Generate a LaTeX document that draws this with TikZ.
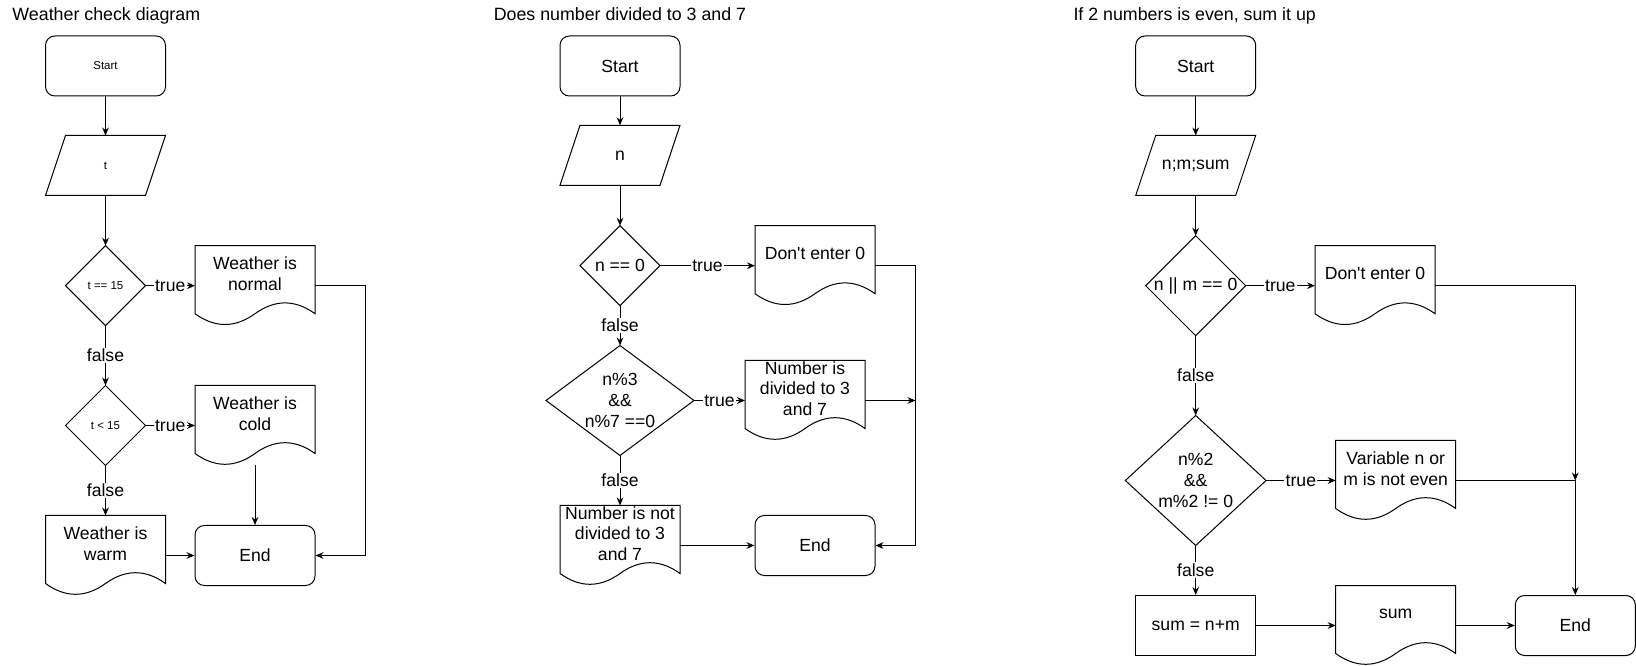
\documentclass[tikz,border=0pt]{standalone}
\usepackage{fontspec}
\setmainfont{Liberation Sans}
\usetikzlibrary{shapes.geometric,arrows.meta,quotes}

\newcommand{\bigtxt}{\fontsize{13.2pt}{15.5pt}\selectfont}
\newcommand{\smalltxt}{\fontsize{8.6pt}{10pt}\selectfont}

\tikzset{
  term/.style={rectangle, draw, rounded corners=7pt, minimum width=90pt, minimum height=45pt, inner sep=0pt, font=\bigtxt},
  proc/.style={rectangle, draw, minimum width=90pt, minimum height=45pt, inner sep=0pt, font=\bigtxt},
  io/.style={rectangle, minimum width=90pt, minimum height=45pt, inner sep=0pt, outer sep=0pt, font=\bigtxt,
    append after command={\pgfextra{\draw[shift={(\tikzlastnode.north west)}] (20,0) -- (120,0) -- (100,60) -- (0,60) -- cycle;}}},
  doc/.style={rectangle, minimum width=90pt, minimum height=60pt, inner sep=0pt, outer sep=0pt,
    append after command={\pgfextra{\draw[shift={(\tikzlastnode.north west)}] (0,0) -- (120,0) -- (120,68)
      .. controls (100,53.6) and (80,53.6) .. (60,68) .. controls (40,82.4) and (20,82.4) .. (0,68) -- cycle;}}},
  dec/.style={diamond, draw, inner sep=0pt, outer sep=0pt},
  txt/.style={align=center, inner sep=0pt, font=\bigtxt},
  heading/.style={anchor=base west, inner sep=0pt, font=\fontsize{13.35pt}{16pt}\selectfont}
}

\begin{document}
\begin{tikzpicture}[x=0.75pt, y=-0.75pt, line width=0.75pt, >={Stealth[length=6pt, width=5pt]},
  every edge quotes/.style={fill=white, inner sep=1pt, font=\bigtxt}]
\useasboundingbox (0,0) rectangle (1636,666);
\node[heading] (h1) at (12,21) {Weather check diagram};
\node[heading] (h2) at (493.3,21) {Does number divided to 3 and 7};
\node[heading] (h3) at (1073,21) {If 2 numbers is even, sum it up};

\node[term, font=\smalltxt] (start1) at (105.5,66) {Start};
\node[io, font=\smalltxt] (in1) at (105.5,165.5) {t};
\node[dec, minimum width=60pt, minimum height=60pt, label={[txt, font=\smalltxt]center:t == 15}] (c1) at (105.5,285.7) {};
\node[doc, label={[txt, yshift=9pt]center:Weather is\\normal}] (norm1) at (255,285.7) {};
\node[dec, minimum width=60pt, minimum height=60pt, label={[txt, font=\smalltxt]center:t < 15}] (c2) at (105.5,425.5) {};
\node[doc, label={[txt, yshift=9pt]center:Weather is\\cold}] (cold1) at (255,425.5) {};
\node[doc, label={[txt, yshift=9pt]center:Weather is\\warm}] (warm1) at (105.5,555.5) {};
\node[term] (end1) at (255,555.5) {End};
\draw[->] (start1) -- (in1);
\draw[->] (in1) -- (c1);
\draw[->] (c1) to["true"] (norm1);
\draw[->] (c1) to["false"] (c2);
\draw[->] (c2) to["true"] (cold1);
\draw[->] (c2) to["false"] (warm1);
\draw[->] (cold1) -- (end1);
\draw[->] (warm1) -- (end1);
\draw[->] (norm1.east) -- ++(50.7,0) |- (end1.east);

\node[term] (start2) at (620,66) {Start};
\node[io] (in2) at (620,155.3) {n};
\node[dec, minimum width=60pt, minimum height=60pt, label={[txt]center:n == 0}] (c3) at (620,265.7) {};
\node[doc, label={[txt, yshift=9pt]center:Don\textquotesingle t enter 0}] (dont2) at (815,265.7) {};
\node[dec, minimum width=111pt, minimum height=82.5pt, label={[txt]center:n\%3\\\&\&\\n\%7 ==0}] (c4) at (620,400.5) {};
\node[doc, label={[txt, yshift=9pt]center:Number is\\divided to 3\\and 7}] (div2) at (805,400.5) {};
\node[doc, label={[txt, yshift=9pt]center:Number is not\\divided to 3\\and 7}] (ndiv2) at (620,545.5) {};
\node[term] (end2) at (815,545.5) {End};
\coordinate (j2) at (915.5,400.5);
\draw[->] (start2) -- (in2);
\draw[->] (in2) -- (c3);
\draw[->] (c3) to["true"] (dont2);
\draw[->] (c3) to["false"] (c4);
\draw[->] (c4) to["true"] (div2);
\draw[->] (c4) to["false"] (ndiv2);
\draw[->] (ndiv2) -- (end2);
\draw[->] (div2.east) -- (j2);
\draw[->] (dont2.east) -- ++(40.5,0) |- (end2.east);

\node[term] (start3) at (1195.7,66) {Start};
\node[io] (in3) at (1195.7,165.5) {n;m;sum};
\node[dec, minimum width=75pt, minimum height=75pt, label={[txt]center:n || m == 0}] (c5) at (1195.7,285.7) {};
\node[doc, label={[txt, yshift=9pt]center:Don\textquotesingle t enter 0}] (dont3) at (1375,285.7) {};
\node[dec, minimum width=105.5pt, minimum height=97.5pt, label={[txt]center:n\%2\\\&\&\\m\%2 != 0}] (c6) at (1195.7,480.5) {};
\node[doc, label={[txt, yshift=9pt]center:Variable n or\\m is not even}] (odd3) at (1395.7,480.5) {};
\node[proc] (calc3) at (1195.7,625.5) {sum = n+m};
\node[doc, label={[txt, yshift=9pt]center:sum}] (sum3) at (1395.7,625.5) {};
\node[term] (end3) at (1575.3,625.5) {End};
\coordinate (j3) at (1575.3,480.5);
\draw[->] (start3) -- (in3);
\draw[->] (in3) -- (c5);
\draw[->] (c5) to["true"] (dont3);
\draw[->] (c5) to["false"] (c6);
\draw[->] (c6) to["true"] (odd3);
\draw[->] (c6) to["false"] (calc3);
\draw[->] (calc3) -- (sum3);
\draw[->] (sum3) -- (end3);
\draw[->] (dont3.east) -| (j3);
\draw (odd3.east) -- (j3);
\draw[->] (j3) -- (end3);
\end{tikzpicture}
\end{document}
